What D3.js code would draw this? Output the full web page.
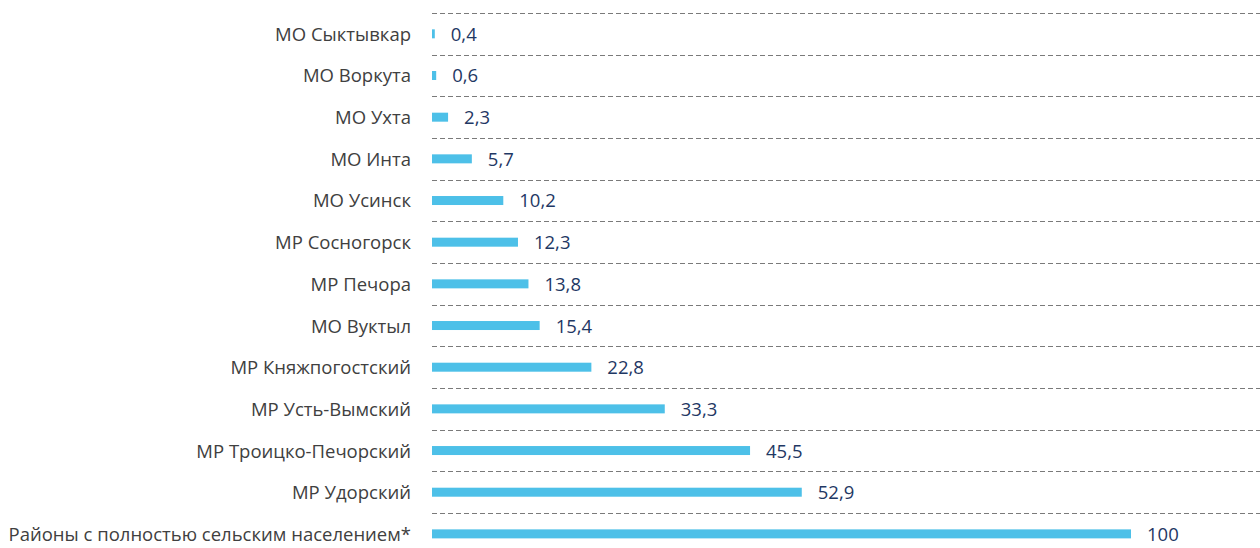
<!DOCTYPE html>
<html>
<head>
<meta charset="utf-8">
<script src="https://cdn.jsdelivr.net/npm/d3@7"></script>
<style>
  body { margin: 0; background: #fff; }
  text { font-family: "Open Sans", sans-serif; }
</style>
</head>
<body>
<div id="chart-area"></div>
<script>
var width = 1260;
var height = 548;

var categories = [
    "МО Сыктывкар", "МО Воркута", "МО Ухта", "МО Инта", "МО Усинск",
    "МР Сосногорск", "МР Печора", "МО Вуктыл", "МР Княжпогостский",
    "МР Усть-Вымский", "МР Троицко-Печорский", "МР Удорский",
    "Районы с полностью сельским населением*"
];
var values = [0.4, 0.6, 2.3, 5.7, 10.2, 12.3, 13.8, 15.4, 22.8, 33.3, 45.5, 52.9, 100];
var valueLabels = ["0,4", "0,6", "2,3", "5,7", "10,2", "12,3", "13,8", "15,4", "22,8", "33,3", "45,5", "52,9", "100"];

var svg = d3.select("#chart-area").append("svg")
    .attr("width", width)
    .attr("height", height);

var x = d3.scaleLinear().domain([0, 100]).range([432, 1131]);
var y = d3.scaleBand().domain(categories).range([13, 13 + 13 * 41.67]);

// dashed separators (top of each band)
svg.selectAll("line.grid").data(categories).enter().append("line")
    .attr("class", "grid")
    .attr("x1", x(0))
    .attr("x2", width)
    .attr("y1", (d) => Math.round(y(d)) + 0.5)
    .attr("y2", (d) => Math.round(y(d)) + 0.5)
    .attr("stroke", "#7a7a7a")
    .attr("stroke-width", 1)
    .attr("stroke-dasharray", "5,3");

var barH = 9;

svg.selectAll("rect.bar").data(values).enter().append("rect")
    .attr("class", "bar")
    .attr("x", x(0))
    .attr("y", (d, i) => y(categories[i]) + y.bandwidth() / 2 - barH / 2)
    .attr("width", (d) => x(d) - x(0))
    .attr("height", barH)
    .attr("fill", "#4dc0e8");

svg.selectAll("text.cat").data(categories).enter().append("text")
    .attr("class", "cat")
    .attr("x", 411)
    .attr("y", (d) => y(d) + y.bandwidth() / 2 + 0.5)
    .attr("dy", "0.35em")
    .attr("text-anchor", "end")
    .attr("font-size", 18.5)
    .attr("fill", "#404040")
    .text((d) => d);

svg.selectAll("text.val").data(values).enter().append("text")
    .attr("class", "val")
    .attr("x", (d) => x(d) + 16)
    .attr("y", (d, i) => y(categories[i]) + y.bandwidth() / 2 + 0.5)
    .attr("dy", "0.35em")
    .attr("font-size", 18.5)
    .attr("fill", "#1f3864")
    .text((d, i) => valueLabels[i]);
</script>
</body>
</html>
